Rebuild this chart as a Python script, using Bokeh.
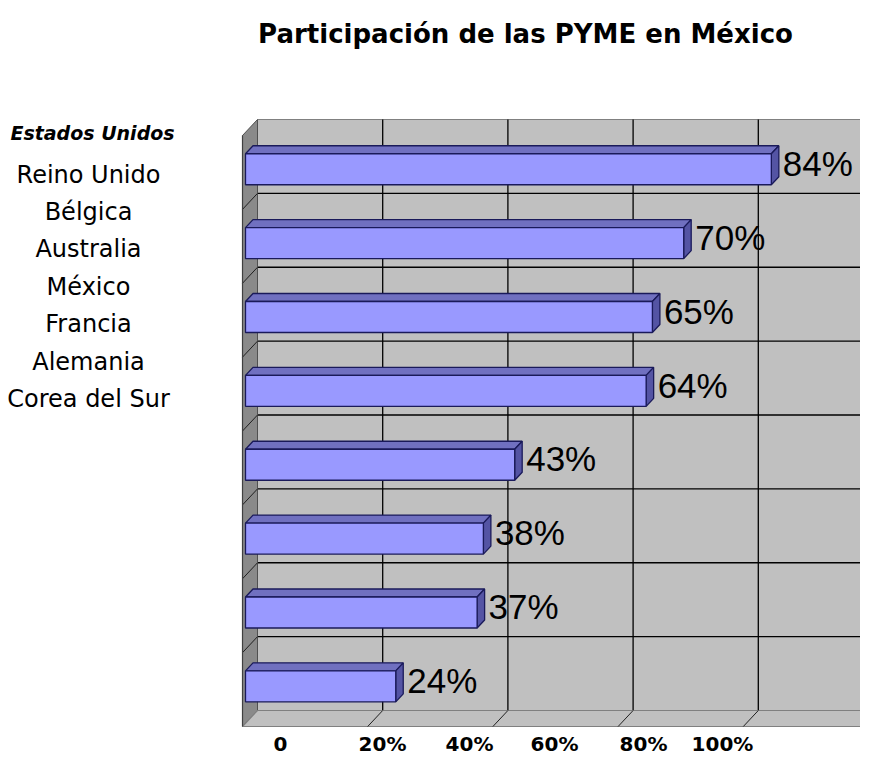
from bokeh.plotting import figure
from bokeh.models import Range1d
from bokeh.core.properties import value
from bokeh.embed import file_html
from bokeh.resources import INLINE

# ---------------- data ----------------
title_text = "Participación de las PYME en México"
categories = ["Estados Unidos", "Reino Unido", "Bélgica", "Australia",
              "México", "Francia", "Alemania", "Corea del Sur"]
shares = [84, 70, 65, 64, 43, 38, 37, 24]
grid_values = [20, 40, 60, 80, 100]
tick_labels = ["0", "20%", "40%", "60%", "80%", "100%"]

# ---------------- layout / style constants (pixels) ----------------
W, H = 860, 757
X0, PX_PCT = 257.0, 6.26      # back wall: 0 % position and px per %
Y0, PX_ROW = 119.0, 73.875    # back wall top and px per category row
N = len(categories)
X_MAX = 100

def X(px):
    return (px - X0) / PX_PCT

def Y(py):
    return (py - Y0) / PX_ROW

def DX(d):
    return d / PX_PCT

def DY(d):
    return d / PX_ROW

D_DX, D_DY = DX(-15), DY(16)           # full depth of the 3-D box
BF_DX, BF_DY = 0.8 * D_DX, 0.8 * D_DY  # bar front plane
BB_DX, BB_DY = 0.3 * D_DX, 0.3 * D_DY  # bar back plane
BAR_H = DY(31)

WALL = "#c0c0c0"
SIDE = "#8a8a8a"
EDGE = "#808080"
BAR_FRONT = "#9999ff"
BAR_TOP = "#7070c0"
BAR_SIDE = "#5454a4"
BAR_LINE = "#1a1a5a"

p = figure(width=W, height=H,
           x_range=Range1d(X(0), X(W)),
           y_range=Range1d(Y(H), Y(0)),
           output_backend="svg", toolbar_location=None, min_border=0,
           x_axis_type=None, y_axis_type=None)
p.outline_line_color = None
p.background_fill_color = "white"
p.border_fill_color = "white"

# back wall
p.quad(left=0, right=X_MAX, top=0, bottom=N, fill_color=WALL, line_color=None)
p.line([0, X_MAX], [0, 0], line_color=EDGE, line_width=1)
rows = list(range(1, N))
p.multi_line(xs=[[0, X_MAX] for _ in rows], ys=[[k, k] for k in rows],
             line_color="black", line_width=1.3)
p.multi_line(xs=[[v, v] for v in grid_values], ys=[[0, N] for _ in grid_values],
             line_color="black", line_width=1.3)

# side wall
p.patch(x=[0, 0, D_DX, D_DX], y=[0, N, N + D_DY, D_DY],
        fill_color=SIDE, line_color="#505050", line_width=1)
p.multi_line(xs=[[0, D_DX] for _ in rows], ys=[[k, k + D_DY] for k in rows],
             line_color="#202020", line_width=1)

# floor
p.patch(x=[0, X_MAX, X_MAX + D_DX, D_DX], y=[N, N, N + D_DY, N + D_DY],
        fill_color=WALL, line_color=EDGE, line_width=1.2)
p.multi_line(xs=[[v, v + D_DX] for v in grid_values],
             ys=[[N, N + D_DY] for _ in grid_values],
             line_color="#202020", line_width=1)
p.line([D_DX, D_DX], [D_DY, N + D_DY], line_color="#404040", line_width=1.2)

# bars (3-D)
centers = [i + 0.5 for i in range(N)]
top_xs, top_ys, side_xs, side_ys = [], [], [], []
for c, v in zip(centers, shares):
    tf = c + BF_DY - BAR_H / 2
    bf = c + BF_DY + BAR_H / 2
    tb = c + BB_DY - BAR_H / 2
    bb = c + BB_DY + BAR_H / 2
    top_xs.append([BF_DX, v + BF_DX, v + BB_DX, BB_DX])
    top_ys.append([tf, tf, tb, tb])
    side_xs.append([v + BF_DX, v + BB_DX, v + BB_DX, v + BF_DX])
    side_ys.append([tf, tb, bb, bf])
p.patches(xs=top_xs, ys=top_ys, fill_color=BAR_TOP, line_color=BAR_LINE, line_width=1.3)
p.patches(xs=side_xs, ys=side_ys, fill_color=BAR_SIDE, line_color=BAR_LINE, line_width=1.3)
p.hbar(y=[c + BF_DY for c in centers], height=BAR_H,
       left=BF_DX, right=[v + BF_DX for v in shares],
       fill_color=BAR_FRONT, line_color=BAR_LINE, line_width=1.3)

# value labels
p.text(x=[v + BB_DX for v in shares], y=[c + DY(7) for c in centers],
       text=[f"{v}%" for v in shares], x_offset=4,
       text_font=value("Liberation Sans"), text_font_size="35px",
       text_color="black", text_align="left", text_baseline="middle")

# title
p.text(x=[X(525)], y=[Y(33)], text=[title_text],
       text_font=value("DejaVu Sans"), text_font_style="bold",
       text_font_size="26px", text_color="black",
       text_align="center", text_baseline="middle")

# category list on the left
label_py = [132] + [174 + 37.4 * i for i in range(N - 1)]
p.text(x=[X(92)], y=[Y(label_py[0])], text=[categories[0]],
       text_font=value("DejaVu Sans"), text_font_style="bold italic",
       text_font_size="19px", text_color="black",
       text_align="center", text_baseline="middle")
p.text(x=[X(88)] * (N - 1), y=[Y(py) for py in label_py[1:]], text=categories[1:],
       text_font=value("DejaVu Sans"), text_font_size="24px", text_color="black",
       text_align="center", text_baseline="middle")

# tick labels (positions as in the source image, raised to fit the canvas)
tick_px = [280, 382, 469, 554, 643, 722]
p.text(x=[X(t) for t in tick_px], y=[Y(743)] * len(tick_px), text=tick_labels,
       text_font=value("DejaVu Sans"), text_font_style="bold",
       text_font_size="20px", text_color="black",
       text_align="center", text_baseline="middle")

open("out.html", "w").write(file_html(p, INLINE))
